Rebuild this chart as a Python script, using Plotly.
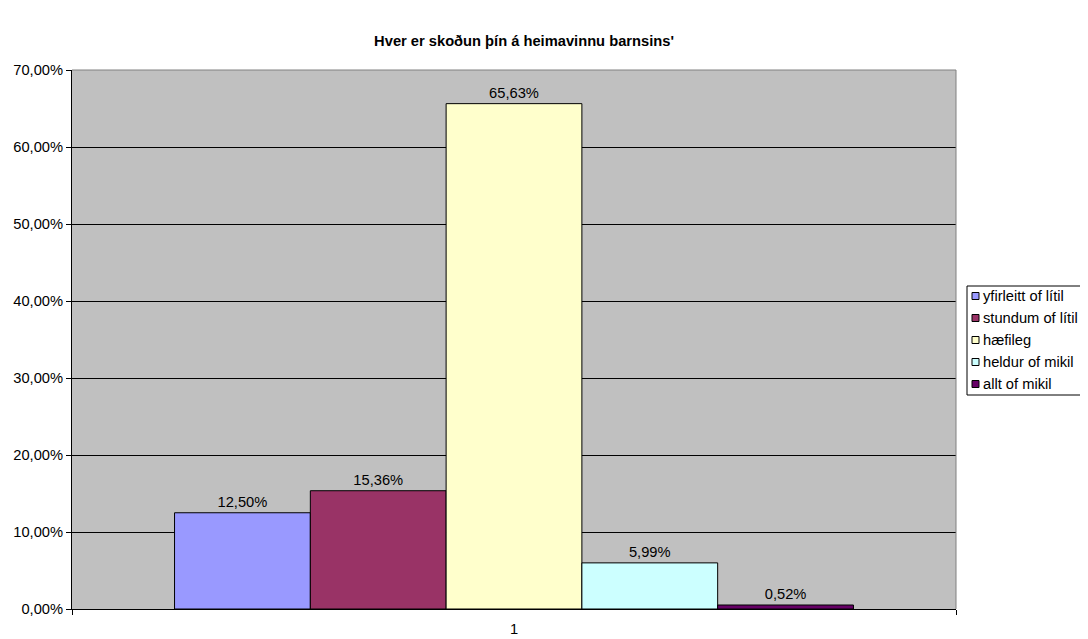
import plotly.graph_objects as go

categories = ["1"]
series_names = ["yfirleitt of lítil", "stundum of lítil", "hæfileg", "heldur of mikil", "allt of mikil"]
series_values = [0.1250, 0.1536, 0.6563, 0.0599, 0.0052]
colors = ["#9999FF", "#993366", "#FFFFCC", "#CCFFFF", "#660066"]
y_ticks = [0, 0.1, 0.2, 0.3, 0.4, 0.5, 0.6, 0.7]

FS = 14.7
FONT = "Liberation Sans, Arial"

fig = go.Figure()
for name, val, col in zip(series_names, series_values, colors):
    fig.add_trace(go.Bar(
        x=categories, y=[val], name=name,
        marker=dict(color=col, line=dict(color="black", width=1)),
        text=[f"{val*100:.2f}%".replace(".", ",")],
        textposition="outside",
        textfont=dict(family=FONT, size=FS, color="black"),
        cliponaxis=False,
        showlegend=False,
    ))

# page body has an 8px default margin, so the figure is 8px smaller
W, H = 1080, 631
ML, MR, MT, MB = 64, 132, 62, 30
PW, PH = W - ML - MR, H - MT - MB


def px_x(x):
    return (x - ML) / PW


def px_y(y):
    return (H - MB - y) / PH


fig.update_layout(
    width=W, height=H,
    paper_bgcolor="white", plot_bgcolor="#C0C0C0",
    margin=dict(l=ML, r=MR, t=MT, b=MB, autoexpand=False),
    barmode="group", bargap=0.232, bargroupgap=0,
    separators=",.",
    font=dict(family=FONT, size=FS, color="black"),
    title=dict(text="<b>Hver er skoðun þín á heimavinnu barnsins'</b>",
               x=px_x(516), xanchor="center", xref="paper", y=1 - 33 / H, yanchor="middle",
               font=dict(size=FS)),
    showlegend=False,
    xaxis=dict(showline=True, linecolor="black", linewidth=1,
               ticks="outside", tickson="boundaries", ticklen=5, tickcolor="black",
               ticklabelstandoff=6, showgrid=False),
    yaxis=dict(range=[0, 0.7], tickvals=y_ticks, tickformat=".2%",
               showline=True, linecolor="black", linewidth=1,
               ticks="outside", ticklen=5, tickcolor="black",
               showgrid=True, gridcolor="black", gridwidth=1, zeroline=False),
)
# plot area frame (top / right)
fig.add_shape(type="line", xref="paper", yref="paper", x0=0, x1=1, y0=1, y1=1,
              line=dict(color="#808080", width=1))
fig.add_shape(type="line", xref="paper", yref="paper", x0=1, x1=1, y0=0, y1=1,
              line=dict(color="#808080", width=1))

# legend box (Excel style: small square keys)
fig.add_shape(type="rect", xref="paper", yref="paper",
              x0=px_x(959), x1=px_x(1078), y0=px_y(387), y1=px_y(278),
              line=dict(color="black", width=1), fillcolor="white", layer="above")
for i, (name, col) in enumerate(zip(series_names, colors)):
    cy = 288 + 22 * i
    fig.add_shape(type="rect", xref="paper", yref="paper",
                  x0=px_x(964), x1=px_x(971), y0=px_y(cy + 3.5), y1=px_y(cy - 3.5),
                  line=dict(color="black", width=1), fillcolor=col, layer="above")
    fig.add_annotation(xref="paper", yref="paper", x=px_x(973), y=px_y(cy),
                       xanchor="left", yanchor="middle", text=name, showarrow=False,
                       font=dict(family=FONT, size=FS, color="black"))

fig.write_html("out.html")
